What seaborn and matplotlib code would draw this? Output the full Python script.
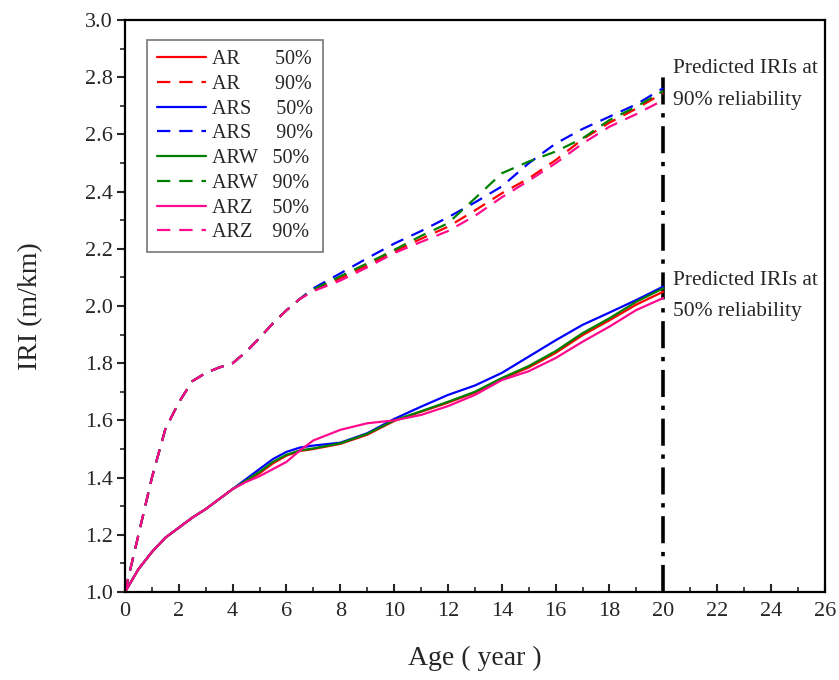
import matplotlib
matplotlib.use("Agg")
import matplotlib.pyplot as plt
from matplotlib.ticker import MultipleLocator
import numpy as np
import pandas as pd
import seaborn as sns

# Pavement age (years)
age = [0, 0.5, 1, 1.5, 2, 2.5, 3, 3.5, 4, 4.5, 5, 5.5, 6, 6.5, 7,
       8, 9, 10, 11, 12, 13, 14, 15, 16, 17, 18, 19, 20]

# IRI (m/km) predictions at 50% reliability
ar_50 = [1.0, 1.08, 1.14, 1.19, 1.225, 1.26, 1.29, 1.325, 1.36, 1.388, 1.415, 1.45, 1.477, 1.493, 1.50,
         1.518, 1.55, 1.598, 1.63, 1.662, 1.697, 1.745, 1.785, 1.836, 1.898, 1.95, 2.005, 2.05]
ars_50 = [1.0, 1.08, 1.14, 1.19, 1.225, 1.26, 1.29, 1.325, 1.36, 1.395, 1.43, 1.465, 1.49, 1.505, 1.512,
          1.522, 1.555, 1.605, 1.648, 1.689, 1.722, 1.766, 1.823, 1.88, 1.934, 1.977, 2.021, 2.068]
arw_50 = [1.0, 1.08, 1.14, 1.19, 1.225, 1.26, 1.29, 1.325, 1.36, 1.39, 1.42, 1.455, 1.48, 1.495, 1.502,
          1.52, 1.553, 1.60, 1.632, 1.665, 1.70, 1.748, 1.79, 1.842, 1.905, 1.957, 2.015, 2.062]
arz_50 = [1.0, 1.08, 1.14, 1.19, 1.225, 1.26, 1.29, 1.325, 1.36, 1.385, 1.405, 1.43, 1.455, 1.495, 1.53,
          1.567, 1.59, 1.60, 1.619, 1.65, 1.689, 1.741, 1.772, 1.818, 1.875, 1.928, 1.986, 2.028]

# IRI (m/km) predictions at 90% reliability
ar_90 = [1.0, 1.20, 1.40, 1.57, 1.663, 1.737, 1.766, 1.785, 1.80, 1.84, 1.888, 1.94, 1.985, 2.025, 2.055,
         2.097, 2.142, 2.19, 2.235, 2.277, 2.334, 2.394, 2.446, 2.51, 2.583, 2.641, 2.69, 2.745]
ars_90 = [1.0, 1.20, 1.40, 1.57, 1.663, 1.737, 1.766, 1.785, 1.80, 1.84, 1.888, 1.94, 1.985, 2.025, 2.062,
          2.114, 2.167, 2.218, 2.262, 2.31, 2.362, 2.418, 2.499, 2.568, 2.619, 2.662, 2.705, 2.762]
arw_90 = [1.0, 1.20, 1.40, 1.57, 1.663, 1.737, 1.766, 1.785, 1.80, 1.84, 1.888, 1.94, 1.985, 2.025, 2.058,
          2.104, 2.149, 2.196, 2.245, 2.289, 2.376, 2.464, 2.505, 2.54, 2.586, 2.65, 2.697, 2.752]
arz_90 = [1.0, 1.20, 1.40, 1.57, 1.663, 1.737, 1.766, 1.785, 1.80, 1.84, 1.888, 1.94, 1.985, 2.025, 2.052,
          2.089, 2.135, 2.185, 2.224, 2.262, 2.315, 2.38, 2.438, 2.499, 2.568, 2.627, 2.671, 2.72]

models = ["AR", "ARS", "ARW", "ARZ"]
colors = {"AR": "#FF0000", "ARS": "#0000FF", "ARW": "#008000", "ARZ": "#FF0A8C"}
# Spaces line the reliability column up under one another
pad = {"AR": 7, "ARS": 5, "ARW": 3, "ARZ": 4}
series = {
    ("AR", "50%"): ar_50, ("AR", "90%"): ar_90,
    ("ARS", "50%"): ars_50, ("ARS", "90%"): ars_90,
    ("ARW", "50%"): arw_50, ("ARW", "90%"): arw_90,
    ("ARZ", "50%"): arz_50, ("ARZ", "90%"): arz_90,
}

rows = []
for (m, r), vals in series.items():
    for a, v in zip(age, vals):
        rows.append({"age": a, "iri": v, "model": m, "reliability": r})
df = pd.DataFrame(rows)

sns.set_style("ticks")
plt.rcParams["font.family"] = ["Liberation Serif", "DejaVu Serif"]

fig = plt.figure(figsize=(8.39, 6.8), dpi=100)
ax = fig.add_axes([0.149, 0.1294, 0.834, 0.8412])

for m in models:
    for r in ["50%", "90%"]:
        sub = df[(df.model == m) & (df.reliability == r)]
        ls = "-" if r == "50%" else (0, (6, 4))
        sns.lineplot(data=sub, x="age", y="iri", ax=ax, color=colors[m],
                     linestyle=ls, linewidth=1.6, estimator=None, sort=True,
                     label=m + " " * pad[m] + r)

# Design-life marker at 20 years
ax.plot([20, 20], [1.0, 2.8], color="black", linewidth=2.6,
        linestyle=(0, (7.5, 2.4, 1.2, 2.4)), zorder=1)

ann_fs = 15.5
ax.text(20.35, 2.83, "Predicted IRIs at", fontsize=ann_fs, va="center", ha="left")
ax.text(20.35, 2.72, "90% reliability", fontsize=ann_fs, va="center", ha="left")
ax.text(20.35, 2.09, "Predicted IRIs at", fontsize=ann_fs, va="center", ha="left")
ax.text(20.35, 1.98, "50% reliability", fontsize=ann_fs, va="center", ha="left")

ax.set_xlim(0, 26)
ax.set_ylim(1.0, 3.0)
ax.xaxis.set_major_locator(MultipleLocator(2))
ax.xaxis.set_minor_locator(MultipleLocator(1))
ax.yaxis.set_minor_locator(MultipleLocator(0.1))
yt = np.round(np.arange(1.0, 3.01, 0.2), 1)
ax.set_yticks(yt)
ax.set_yticklabels([f"{v:.1f}" for v in yt])

ax.tick_params(axis="x", which="major", direction="in", length=6, width=1.5, labelsize=16, pad=7)
ax.tick_params(axis="x", which="minor", direction="in", length=3.5, width=1.2)
ax.tick_params(axis="y", which="major", direction="out", length=6, width=1.5, labelsize=16, pad=3)
ax.tick_params(axis="y", which="minor", direction="out", length=3.5, width=1.2)

for sp in ax.spines.values():
    sp.set_linewidth(1.6)
    sp.set_color("black")
    sp.set_visible(True)

ax.set_xlabel("Age ( year )", fontsize=20, labelpad=18)
ax.set_ylabel("IRI (m/km)", fontsize=20, labelpad=30)

leg = ax.legend(loc="upper left", bbox_to_anchor=(0.031, 0.965), borderaxespad=0,
                fontsize=14.5, handlelength=2.45, handletextpad=0.3, labelspacing=0.28,
                borderpad=0.5, frameon=True, fancybox=False,
                edgecolor="#777777", framealpha=1.0)
leg.get_frame().set_linewidth(1.2)

fig.savefig("out.png", dpi=100)
